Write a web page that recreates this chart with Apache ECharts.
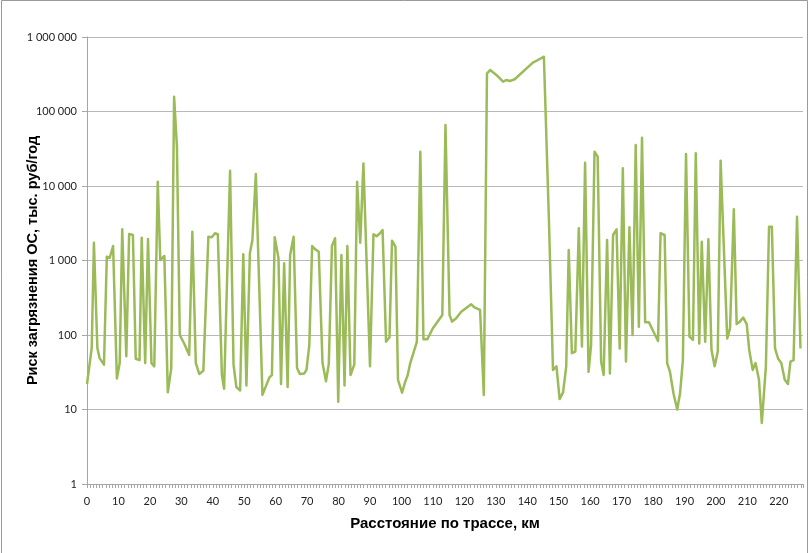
<!DOCTYPE html>
<html>
<head>
<meta charset="utf-8">
<script src="https://cdn.jsdelivr.net/npm/echarts@6/dist/echarts.min.js"></script>
<style>
  html, body { margin: 0; padding: 0; background: #fff; }
  #chart { width: 810px; height: 553px; }
</style>
</head>
<body>
<div id="chart"></div>
<script>
// Distance along the route, km
const distanceKm = [
  0, 1.5, 2.2, 3.3, 4.0, 5.4, 6.3, 7.2, 8.3, 9.5,
  10.4, 11.2, 12.5, 13.4, 14.6, 15.5, 16.7, 17.4, 18.5, 19.4,
  20.5, 21.4, 22.5, 23.3, 24.6, 25.7, 26.8, 27.7, 28.6, 29.5,
  30.9, 32.5, 33.5, 34.6, 35.7, 37.0, 37.6, 38.6, 39.7, 40.7,
  41.6, 42.9, 43.6, 45.5, 46.6, 47.5, 48.7, 49.7, 50.7, 51.8,
  52.6, 53.7, 55.8, 58.0, 58.8, 59.7, 60.9, 61.7, 62.7, 63.8,
  64.6, 65.7, 66.8, 67.7, 69.1, 69.8, 70.7, 71.6, 72.6, 73.7,
  74.9, 76.0, 76.9, 77.9, 78.9, 79.9, 80.9, 81.9, 82.8, 83.8,
  85.0, 85.9, 86.9, 87.9, 90.0, 91.1, 92.1, 93.2, 94.0, 95.1,
  96.2, 97.0, 98.1, 98.9, 100.2, 101.2, 102.0, 102.8, 103.8, 104.9,
  106.0, 107.0, 108.2, 110.0, 113.0, 114.0, 115.3, 116.1, 117.4, 119.0,
  122.2, 123.2, 125.0, 126.2, 127.2, 128.2, 130.2, 132.3, 133.3, 134.6,
  136.0, 141.8, 143.4, 145.3, 146.9, 148.2, 149.3, 150.3, 151.4, 152.4,
  153.2, 154.2, 155.3, 156.4, 157.4, 158.4, 159.5, 160.3, 161.4, 162.4,
  163.5, 164.3, 165.4, 166.3, 167.3, 168.4, 169.4, 170.4, 171.4, 172.5,
  173.5, 174.5, 175.5, 176.5, 177.5, 178.7, 180.0, 181.6, 182.4, 183.7,
  184.5, 185.4, 186.5, 187.7, 188.6, 189.5, 190.5, 191.6, 192.7, 193.6,
  194.7, 195.5, 196.6, 197.6, 198.6, 199.6, 200.6, 201.5, 203.6, 204.5,
  205.7, 206.6, 207.6, 208.7, 209.8, 210.6, 211.7, 212.6, 213.7, 214.6,
  215.9, 216.9, 217.8, 218.8, 219.8, 220.8, 221.9, 222.9, 223.7, 224.7,
  225.8, 226.9
];

// Environmental pollution risk, thousand roubles per year
const riskValues = [
  22, 67, 1730, 67, 49, 40, 1125, 1080, 1565, 26,
  42, 2620, 52, 2270, 2200, 48, 46, 2020, 42, 1945,
  42, 38, 11400, 1015, 1150, 17, 36, 158000, 33700, 100,
  77, 54, 2440, 42, 30, 33, 33, 2090, 2050, 2320,
  2250, 29, 19, 16000, 40, 20, 18, 1210, 21, 1250,
  1880, 14500, 15.7, 27, 29, 2050, 1070, 22, 917, 20,
  1186, 2090, 36, 30, 30.5, 34, 73, 1565, 1410, 1310,
  42, 24, 41, 1565, 1990, 12.7, 1186, 21, 1565, 29,
  40, 11400, 1730, 20100, 38, 2250, 2120, 2320, 2570, 81,
  93, 1845, 1530, 25, 16.8, 23.6, 29, 42, 57, 81,
  28900, 87.5, 87.5, 123, 185, 65900, 185, 151, 168, 205,
  258, 235, 217, 15.7, 326000, 360000, 309000, 251000, 265000, 257000,
  271000, 452000, 491000, 544000, 3500, 34, 38, 13.8, 17, 38,
  1380, 57, 60, 2700, 70, 20500, 32, 73, 28900, 24800,
  44, 29, 1880, 30.5, 2200, 2620, 66, 17300, 44, 2790,
  100, 35500, 129, 44500, 148, 148, 114, 83, 2320, 2200,
  42, 32, 16.5, 10, 16.5, 46, 26900, 95, 86, 27500,
  77, 1790, 81, 1925, 63, 38, 60, 21900, 90, 123,
  4870, 140, 151, 171, 140, 63, 34, 42, 25, 6.6,
  38, 2840, 2840, 66, 48, 42, 25, 22, 44, 46,
  3870, 66
];

// Axis texts
const xAxisTitle = 'Расстояние по трассе, км';
const yAxisTitle = 'Риск загрязнения ОС, тыс. руб/год';

const seriesData = distanceKm.map((km, i) => [km, riskValues[i]]);

const formatThousands = v => String(Math.round(v)).replace(/\B(?=(\d{3})+(?!\d))/g, ' ');

const titleFont = '"Liberation Sans", Arial, sans-serif';

const chart = echarts.init(document.getElementById('chart'), null, { renderer: 'canvas' });

chart.setOption({
  animation: false,
  backgroundColor: '#ffffff',
  textStyle: { fontFamily: 'Lato, "Liberation Sans", sans-serif' },
  graphic: [{
    type: 'rect',
    shape: { x: 1.5, y: 0.5, width: 806, height: 570 },
    style: { fill: 'none', stroke: '#9a9a9a', lineWidth: 1 },
    silent: true
  }],
  grid: { left: 87, top: 37, right: 7, bottom: 69, containLabel: false, outerBoundsMode: 'none' },
  xAxis: {
    type: 'value',
    min: 0,
    max: 227.7,
    interval: 10,
    name: xAxisTitle,
    nameLocation: 'middle',
    nameGap: 32,
    nameMoveOverlap: false,
    nameTextStyle: { fontSize: 15, fontWeight: 'bold', color: '#000', fontFamily: titleFont, verticalAlign: 'top' },
    axisLine: { show: true, lineStyle: { color: '#a6a6a6', width: 1 } },
    axisTick: { show: true, length: 4, lineStyle: { color: '#a6a6a6' } },
    minorTick: { show: true, splitNumber: 10, length: 4, lineStyle: { color: '#a6a6a6' } },
    axisLabel: { fontSize: 11, color: '#222', margin: 12, showMaxLabel: false },
    splitLine: { show: false }
  },
  yAxis: {
    type: 'log',
    logBase: 10,
    min: 1,
    max: 1000000,
    name: yAxisTitle,
    nameLocation: 'middle',
    nameGap: 47,
    nameRotate: 90,
    nameMoveOverlap: false,
    nameTextStyle: { fontSize: 14.5, fontWeight: 'bold', color: '#000', fontFamily: titleFont },
    axisLine: { show: true, lineStyle: { color: '#a6a6a6', width: 1 } },
    axisTick: { show: true, length: 5, lineStyle: { color: '#a6a6a6' } },
    axisLabel: { fontSize: 11, color: '#222', margin: 10, formatter: formatThousands },
    splitLine: { show: true, lineStyle: { color: '#b8b8b8', width: 1 } }
  },
  series: [{
    type: 'line',
    data: seriesData,
    showSymbol: false,
    symbol: 'none',
    lineStyle: { color: '#9bbb59', width: 2.5, join: 'round' },
    itemStyle: { color: '#9bbb59' }
  }]
});
</script>
</body>
</html>
